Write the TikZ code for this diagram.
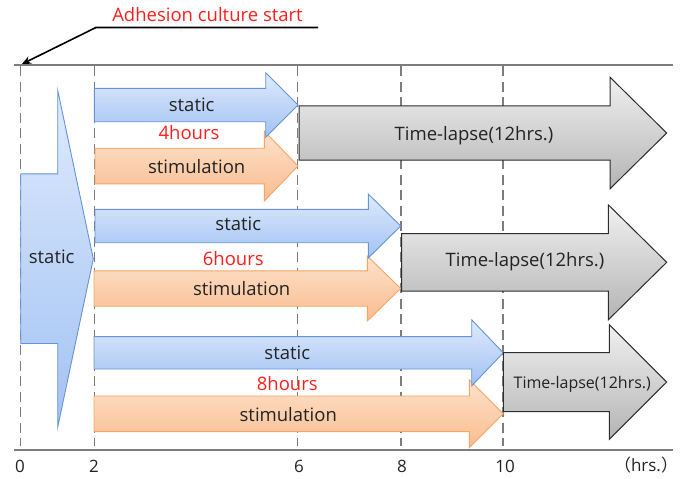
\documentclass[tikz,border=0pt]{standalone}
\usepackage{fontspec}
\setmainfont{Open Sans}
\newfontfamily\cjkfont{Noto Sans CJK JP}
\usetikzlibrary{arrows.meta}

\definecolor{blueT}{RGB}{222,234,252}
\definecolor{blueB}{RGB}{162,194,243}
\definecolor{blueE}{RGB}{100,148,215}
\definecolor{orT}{RGB}{253,226,203}
\definecolor{orB}{RGB}{250,188,143}
\definecolor{orE}{RGB}{246,165,100}
\definecolor{grT}{RGB}{240,240,240}
\definecolor{grB}{RGB}{180,180,180}
\definecolor{grE}{RGB}{45,45,45}
\definecolor{axisgray}{RGB}{125,125,125}
\definecolor{txt}{RGB}{35,35,35}
\definecolor{redtxt}{RGB}{255,30,30}

% style, x0, xhead, xtip, ycenter, body half, head half
\newcommand\myarrow[7]{%
  \path[#1] ({#2},{#5-#6}) -- ({#3},{#5-#6}) -- ({#3},{#5-#7}) -- ({#4},{#5})
    -- ({#3},{#5+#7}) -- ({#3},{#5+#6}) -- ({#2},{#5+#6}) -- cycle;}

\tikzset{
  bluearrow/.style={draw=blueE, line width=0.9pt, top color=blueT, bottom color=blueB, line join=miter},
  orangearrow/.style={draw=orE, line width=0.9pt, top color=orT, bottom color=orB, line join=miter},
  grayarrow/.style={draw=grE, line width=1pt, top color=grT, bottom color=grB, line join=miter},
  axisline/.style={draw=axisgray, line width=2pt},
  gridline/.style={draw=axisgray, line width=1.8pt, dash pattern=on 10pt off 5.5pt},
  lbl/.style={font=\fontsize{18.5}{22}\selectfont, text=txt, inner sep=0pt},
  smalllbl/.style={font=\fontsize{16}{19}\selectfont, text=txt, inner sep=0pt},
  redlbl/.style={font=\fontsize{18.5}{22}\selectfont, text=redtxt, inner sep=0pt},
  ticklbl/.style={font=\fontsize{17}{20}\selectfont, text=txt, inner sep=0pt},
  leader/.style={draw=black, line width=1.6pt, -{Stealth[length=9pt,width=8pt]}}
}

\begin{document}
\begin{tikzpicture}[x=1pt, y=-1pt]
\useasboundingbox (0,0) rectangle (683,479);

% axis lines
\coordinate (topL) at (14,65);
\coordinate (topR) at (673,65);
\coordinate (botL) at (14,450);
\coordinate (botR) at (673,450);
\draw[axisline] (topL) -- (topR);
\draw[axisline] (botL) -- (botR);

% dashed grid lines
\foreach \n/\x in {g0/20.5, g2/94.5, g6/297.5, g8/401, g10/503} {
  \coordinate (\n t) at (\x,66);
  \coordinate (\n b) at (\x,446);
  \draw[gridline] (\n t) -- (\n b);
}

% leader for adhesion culture start
\node[redlbl] (adh) at (207.5,15) {Adhesion culture start};
\coordinate (ldstart) at (318,27.5);
\coordinate (ldbend) at (96,27.5);
\coordinate (ldtip) at (22,64);
\draw[leader] (ldstart) -- (ldbend) -- (ldtip);

% big static arrow
\myarrow{bluearrow}{20.7}{57.7}{93.3}{258.7}{84.8}{168.5}
\node[lbl] (bigstatic) at (51.7,256.7) {static};

% row 1 (4 hours)
\myarrow{orangearrow}{95}{264.3}{298}{166}{17.8}{35}
\myarrow{bluearrow}{94.3}{265.7}{298}{105}{16.7}{32.3}
\myarrow{grayarrow}{299}{610}{666.7}{133}{27.2}{55.8}
\node[lbl] (st1) at (191.7,105) {static};
\node[redlbl] (h4) at (189,132.7) {4hours};
\node[lbl] (sm1) at (196.7,166.7) {stimulation};
\node[lbl] (tl1) at (474,136) {Time-lapse(12hrs.)};

% row 2 (6 hours)
\myarrow{orangearrow}{94}{367.3}{400.7}{288.5}{17.7}{32.5}
\myarrow{bluearrow}{95}{368.3}{400.7}{226}{16.7}{32}
\myarrow{grayarrow}{401.7}{608.3}{666.7}{262.3}{28.8}{57.5}
\node[lbl] (st2) at (238.3,223.3) {static};
\node[redlbl] (h6) at (233.3,258.3) {6hours};
\node[lbl] (sm2) at (241.7,288.3) {stimulation};
\node[lbl] (tl2) at (525,261.7) {Time-lapse(12hrs.)};

% row 3 (8 hours)
\myarrow{orangearrow}{94}{469.3}{503.3}{413.8}{17.8}{34}
\myarrow{bluearrow}{94}{471.7}{503.3}{352.8}{16.2}{33}
\myarrow{grayarrow}{503.3}{609.3}{666.7}{382}{29.5}{57.3}
\node[lbl] (st3) at (287.3,352.3) {static};
\node[redlbl] (h8) at (287.3,383.3) {8hours};
\node[lbl] (sm3) at (288.3,415) {stimulation};
\node[smalllbl] (tl3) at (582.3,384.3) {Time-lapse(12hrs.)};

% tick labels
\node[ticklbl] (l0) at (20,466.5) {0};
\node[ticklbl] (l2) at (94,466.5) {2};
\node[ticklbl] (l6) at (299,466.5) {6};
\node[ticklbl] (l8) at (402,466.5) {8};
\node[ticklbl] (l10) at (505,466.5) {10};
\node[ticklbl] (lhrs) at (646,465) {{\cjkfont （}hrs.{\cjkfont ）}};
\end{tikzpicture}
\end{document}
